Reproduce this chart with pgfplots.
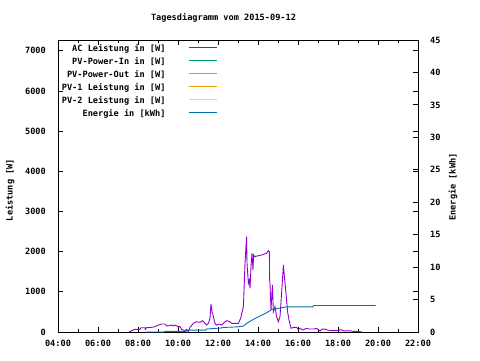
\documentclass[border=0pt]{standalone}
\usepackage{pgfplots}
\pgfplotsset{compat=1.18}
\usepackage{fontspec}
\setmainfont{DejaVu Sans Mono}
\definecolor{cAC}{HTML}{9400D3}
\definecolor{cIn}{HTML}{009E73}
\definecolor{cOut}{HTML}{56B4E9}
\definecolor{cPVa}{HTML}{E69F00}
\definecolor{cPVb}{HTML}{F0E442}
\definecolor{cEn}{HTML}{0072B2}
\begin{document}
\begin{tikzpicture}[font=\fontsize{8.6}{10}\selectfont\bfseries]
\path[use as bounding box] (-58pt,-28pt) rectangle (422pt,332pt);
\begin{axis}[
  at={(0pt,0pt)}, anchor=south west, scale only axis,
  width=360pt, height=292pt,
  xmin=4, xmax=22, ymin=0, ymax=7270,
  xtick={4,6,...,22},
  xticklabels={04:00,06:00,08:00,10:00,12:00,14:00,16:00,18:00,20:00,22:00},
  minor xtick={5,7,...,21},
  ytick={0,1000,...,7000},
  /pgf/number format/assume math mode=true,
  scaled y ticks=false,
  yticklabel={\pgfmathprintnumber[fixed,precision=0,1000 sep={}]{\tick}},
  tick align=inside, major tick length=5pt, minor tick length=3pt,
  every tick/.style={black, line width=0.8pt},
  axis line style={black, line width=0.8pt},
  yticklabel style={anchor=east, inner sep=0pt, xshift=-12pt},
  xticklabel style={anchor=north, inner sep=0pt, yshift=-8pt},
  legend style={at={(0.444,0.983)}, anchor=north east, draw=none, fill=none,
    inner sep=0pt, row sep=5pt, column sep=23pt,
    nodes={inner sep=0pt, text height=6.5pt, text depth=1.5pt}},
  legend cell align=right, legend plot pos=right,
  legend image code/.code={\draw[#1] (0pt,1.5pt) -- (28pt,1.5pt);},
]
\addplot[cAC, line width=0.9pt, forget plot] coordinates {
(7.55,0) (7.68,32) (7.85,67) (8.10,67) (8.15,107) (8.35,107) (8.37,67) (8.42,107)
(8.65,115) (8.85,132) (9.02,174) (9.18,199) (9.35,199) (9.43,150) (9.60,160) (9.68,175)
(9.75,150) (9.85,174) (10.02,132) (10.10,140) (10.18,67) (10.35,32) (10.43,67) (10.52,8)
(10.60,115) (10.77,215) (10.93,257) (11.10,240) (11.22,282) (11.35,215) (11.43,174) (11.52,215)
(11.60,340) (11.65,697) (11.70,506) (11.77,382) (11.85,215) (11.93,174) (12.05,199) (12.18,174)
(12.32,241) (12.43,282) (12.60,257) (12.68,215) (13.02,215) (13.13,340) (13.27,631) (13.35,1711)
(13.43,2375) (13.45,1711) (13.52,1213) (13.57,1296) (13.60,1088) (13.65,1628) (13.70,1960) (13.75,1545)
(13.78,1918) (13.83,1877) (14.18,1918) (14.43,1960) (14.52,2027) (14.57,2002) (14.58,1296) (14.60,1213)
(14.65,548) (14.72,1171) (14.77,506) (14.85,631) (14.93,382) (15.02,257) (15.10,382) (15.18,963)
(15.27,1669) (15.32,1378) (15.40,963) (15.48,506) (15.55,299) (15.65,92) (15.78,116) (15.93,116)
(16.00,67) (16.08,92) (16.25,50) (16.40,90) (16.55,75) (16.77,74) (16.93,90) (17.10,25)
(17.20,70) (17.35,74) (17.50,45) (17.68,33) (18.02,33) (18.10,58) (18.35,25) (18.52,33)
(18.77,17) (19.10,8) (19.20,0)
};
\addlegendimage{draw=cAC, line width=1.2pt}
\addlegendentry{AC Leistung in [W]}
\addlegendimage{draw=cIn, line width=1.2pt}
\addlegendentry{PV-Power-In in [W]}
\addlegendimage{draw=cOut, line width=1.2pt}
\addlegendentry{PV-Power-Out in [W]}
\addlegendimage{draw=cPVa, line width=1.2pt}
\addlegendentry{PV-1 Leistung in [W]}
\addlegendimage{draw=cPVb, line width=1.2pt}
\addlegendentry{PV-2 Leistung in [W]}
\addlegendimage{draw=cEn, line width=1.2pt}
\addlegendentry{Energie in [kWh]}
\end{axis}
\begin{axis}[
  at={(0pt,0pt)}, anchor=south west, scale only axis,
  width=360pt, height=292pt,
  xmin=4, xmax=22, ymin=0, ymax=45,
  axis y line*=right, axis x line=none,
  ytick={0,5,...,45},
  /pgf/number format/assume math mode=true,
  tick align=inside, major tick length=5pt,
  every tick/.style={black, line width=0.8pt},
  axis line style={black, line width=0.8pt},
  yticklabel style={anchor=west, inner sep=0pt, xshift=12pt},
]
\addplot[cEn, line width=0.9pt] coordinates {
(8.40,0) (9.30,0) (9.35,0.1) (10.40,0.1) (10.42,0.3) (11.40,0.3) (11.42,0.46) (12.10,0.6)
(12.30,0.7) (13.00,0.8) (13.27,0.92) (13.43,1.33) (13.77,1.94) (14.10,2.45) (14.43,2.96) (14.60,3.30)
(14.68,3.47) (14.93,3.62) (15.27,3.78) (15.43,3.88) (16.75,3.88) (16.77,4.08) (19.88,4.08)
};
\end{axis}
\node at (165.5pt,314.5pt) {Tagesdiagramm vom 2015-09-12};
\node[rotate=90] at (-48pt,142pt) {Leistung [W]};
\node[rotate=90] at (395pt,145pt) {Energie [kWh]};
\end{tikzpicture}
\end{document}
